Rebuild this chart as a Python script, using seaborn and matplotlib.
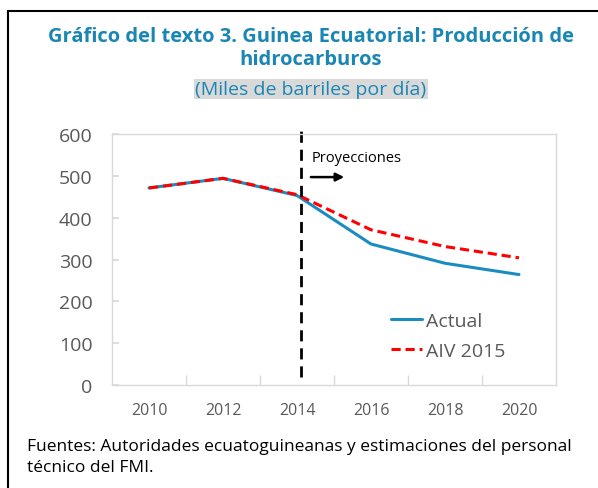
import matplotlib
matplotlib.use("Agg")
import matplotlib.pyplot as plt
import seaborn as sns
import pandas as pd
from matplotlib.patches import Rectangle

# datos
anios = [2010, 2012, 2014, 2016, 2018, 2020]
actual = [471, 494, 453, 337, 291, 264]
aiv_2015 = [471, 494, 455, 371, 331, 304]

df = pd.DataFrame({"anio": anios, "Actual": actual, "AIV 2015": aiv_2015})

sns.set_theme(style="white")
plt.rcParams["font.family"] = ["Open Sans", "DejaVu Sans"]

azul_titulo = "#1a86b4"
gris = "#595959"

fig = plt.figure(figsize=(5.98, 4.89), dpi=100)
ax = fig.add_axes([112 / 598, 1 - 386 / 489, 444 / 598, 251 / 489])

sns.lineplot(data=df, x="anio", y="Actual", ax=ax, color="#1b8cc0", lw=2.2, label="Actual")
sns.lineplot(data=df, x="anio", y="AIV 2015", ax=ax, color="#ff0000", lw=2.2,
             linestyle=(0, (3, 1.6)), label="AIV 2015")

ax.set_xlim(2009, 2021)
ax.set_ylim(0, 600)
ax.set_xticks(anios)
ax.set_xticks([2011, 2013, 2015, 2017, 2019], minor=True)
ax.set_yticks(range(0, 601, 100))
ax.tick_params(axis="x", which="major", length=0, labelsize=11.5, labelcolor=gris, pad=12)
ax.tick_params(axis="x", which="minor", direction="in", length=7, color="#d9d9d9", width=1,
               bottom=True)
ax.tick_params(axis="y", direction="in", length=5, color="#d9d9d9", labelsize=14,
               labelcolor=gris, pad=14, left=True)
ax.set_xlabel("")
ax.set_ylabel("")
for s in ax.spines.values():
    s.set_color("#d9d9d9")
    s.set_linewidth(1)

# línea vertical de proyecciones
ax.plot([2014.1, 2014.1], [20, 615], color="black", lw=2, linestyle=(0, (4, 2.5)),
        clip_on=False)
ax.annotate("", xy=(2015.35, 497), xytext=(2014.3, 497),
            arrowprops=dict(arrowstyle="-|>", color="black", lw=1.8, mutation_scale=12))
ax.text(2014.4, 535, "Proyecciones", fontsize=10.5, color="black")

leg = ax.legend(loc="lower right", bbox_to_anchor=(0.925, 0.03), frameon=False,
                fontsize=14, handlelength=1.6, labelspacing=0.6, handletextpad=0.2)
for t in leg.get_texts():
    t.set_color(gris)

# títulos
cx = 311 / 598
fig.text(cx, 1 - 37 / 489, "Gráfico del texto 3. Guinea Ecuatorial: Producción de",
         ha="center", va="center", fontsize=14.5, fontweight="bold", color=azul_titulo)
fig.text(cx, 1 - 60 / 489, "hidrocarburos", ha="center", va="center", fontsize=14.5,
         fontweight="bold", color=azul_titulo)
fig.text(cx, 1 - 90 / 489, "(Miles de barriles por día)", ha="center", va="center",
         fontsize=14, color=azul_titulo,
         bbox=dict(facecolor="#d9d9d9", edgecolor="none", pad=1))

fig.text(27 / 598, 1 - 447 / 489,
         "Fuentes: Autoridades ecuatoguineanas y estimaciones del personal",
         ha="left", va="center", fontsize=12.5, color="black")
fig.text(27 / 598, 1 - 468 / 489, "técnico del FMI.", ha="left", va="center",
         fontsize=12.5, color="black")

# marco exterior
fig.patches.append(Rectangle((8 / 598, -0.05), 1.2, 1.05 - 12 / 489, transform=fig.transFigure,
                             fill=False, edgecolor="black", lw=1.5, clip_on=False))

fig.savefig("out.png", dpi=100)
